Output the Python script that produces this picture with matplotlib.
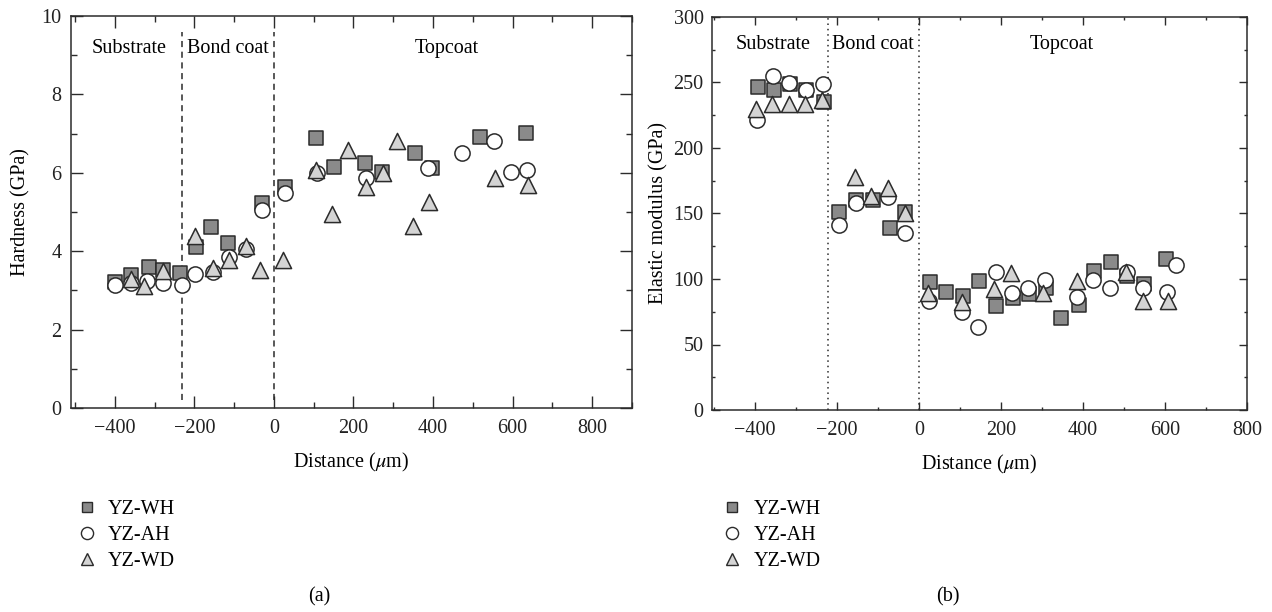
import numpy as np
import matplotlib
matplotlib.use("Agg")
import matplotlib.pyplot as plt
from matplotlib.ticker import MultipleLocator
from matplotlib.lines import Line2D

plt.rcParams['font.family'] = ['Liberation Serif', 'DejaVu Serif']
plt.rcParams['mathtext.fontset'] = 'stix'
plt.rcParams['font.size'] = 14.5

# hardness (panel a)
wh_hard_x = [-400, -360, -314, -278, -236, -195, -158, -115, -31, 28, 106, 151, 229, 271, 355, 397, 518, 633]
wh_hard_y = [3.22, 3.39, 3.59, 3.52, 3.44, 4.10, 4.63, 4.20, 5.22, 5.65, 6.88, 6.16, 6.24, 6.03, 6.50, 6.13, 6.92, 7.02]
ah_hard_x = [-400, -358, -319, -280, -232, -199, -154, -112, -70, -31, 28, 109, 231, 387, 472, 554, 595, 636]
ah_hard_y = [3.14, 3.18, 3.25, 3.20, 3.14, 3.41, 3.48, 3.86, 4.05, 5.05, 5.48, 5.99, 5.86, 6.11, 6.51, 6.82, 6.03, 6.07]
wd_hard_x = [-360, -327, -280, -199, -154, -112, -70, -35, 22, 106, 147, 185, 231, 275, 309, 350, 391, 556, 638]
wd_hard_y = [3.28, 3.11, 3.50, 4.39, 3.56, 3.78, 4.12, 3.52, 3.78, 6.07, 4.95, 6.58, 5.65, 6.00, 6.81, 4.64, 5.26, 5.88, 5.69]

# elastic modulus (panel b)
wh_mod_x = [-394, -354, -315, -276, -233, -194, -154, -113, -72, -34, 27, 67, 107, 147, 187, 229, 268, 309,
            346, 389, 428, 468, 508, 549, 602]
wh_mod_y = [246.8, 244.3, 248.6, 244.3, 235.3, 151.4, 160.3, 160.3, 139.2, 151.4, 97.5, 89.8, 87.3, 98.7, 79.6,
            85.3, 88.3, 92.9, 70.5, 80.2, 106.1, 113.2, 102.5, 96.0, 115.3]
ah_mod_x = [-396, -355, -316, -276, -235, -194, -154, -75, -34, 24, 106, 145, 187, 226, 267, 307, 386, 425,
            466, 507, 547, 606, 628]
ah_mod_y = [221.4, 255.0, 249.4, 244.3, 248.9, 141.2, 158.2, 162.8, 134.9, 83.2, 74.6, 63.6, 105.1, 89.1, 93.4,
            99.2, 86.5, 99.2, 93.4, 105.6, 93.4, 90.3, 110.7]
wd_mod_x = [-398, -359, -318, -277, -237, -156, -117, -76, -34, 23, 104, 183, 224, 303, 385, 505, 546, 608]
wd_mod_y = [229.5, 233.6, 233.6, 233.6, 236.6, 178.0, 163.4, 169.2, 150.0, 89.6, 82.7, 92.1, 104.3, 89.6,
            98.5, 105.1, 83.2, 83.2]

series_names = ['YZ-WH', 'YZ-AH', 'YZ-WD']
region_names = ['Substrate', 'Bond coat', 'Topcoat']

edge = '#2b2b2b'
sq_style = dict(marker='s', color='#8a8a8a', edgecolor=edge, s=92, linewidths=1.1)
ci_style = dict(marker='o', color='white', edgecolor=edge, s=120, linewidths=1.1)
tr_style = dict(marker='^', color='#d4d4d4', edgecolor=edge, s=135, linewidths=1.1)


def style_axes(ax, major_len, minor_len):
    ax.tick_params(which='both', direction='in', top=True, right=True, color=edge, labelcolor='#222222')
    ax.tick_params(which='major', length=major_len, width=1.0, pad=8)
    ax.tick_params(which='minor', length=minor_len, width=1.0)
    for sp in ax.spines.values():
        sp.set_color(edge)
        sp.set_linewidth(1.1)


fig = plt.figure(figsize=(12.72, 6.12), dpi=100)

# ---- (a) hardness
ax1 = fig.add_axes([71 / 1272, 1 - 408 / 612, 561 / 1272, 392 / 612])
ax1.scatter(wh_hard_x, wh_hard_y, zorder=3, **sq_style)
ax1.scatter(ah_hard_x, ah_hard_y, zorder=4, **ci_style)
ax1.scatter(wd_hard_x, wd_hard_y, zorder=5, **tr_style)
for xv in [-230, 0]:
    ax1.plot([xv, xv], [0.2, 9.6], ls=(0, (4, 3)), color=edge, lw=1.1, zorder=2)
ax1.set_xlim(-510, 900)
ax1.set_ylim(0, 10)
ax1.set_xticks([-400, -200, 0, 200, 400, 600, 800])
ax1.set_xticklabels(['\u2212400', '\u2212200', '0', '200', '400', '600', '800'])
ax1.xaxis.set_minor_locator(MultipleLocator(100))
ax1.yaxis.set_major_locator(MultipleLocator(2))
ax1.yaxis.set_minor_locator(MultipleLocator(1))
style_axes(ax1, 8.5, 4.3)
ax1.tick_params(axis='y', which='major', pad=7)
ax1.set_xlabel('Distance ($\\mu$m)', labelpad=9)
ax1.set_ylabel('Hardness (GPa)', labelpad=8)
ax1.text(-365, 9.18, region_names[0], ha='center', va='center')
ax1.text(-116, 9.18, region_names[1], ha='center', va='center')
ax1.text(435, 9.18, region_names[2], ha='center', va='center')

# ---- (b) elastic modulus
ax2 = fig.add_axes([712 / 1272, 1 - 410 / 612, 535 / 1272, 393 / 612])
ax2.scatter(wh_mod_x, wh_mod_y, zorder=3, **sq_style)
ax2.scatter(ah_mod_x, ah_mod_y, zorder=4, **ci_style)
ax2.scatter(wd_mod_x, wd_mod_y, zorder=5, **tr_style)
for xv in [-222, 0]:
    ax2.axvline(xv, ls=(0, (1, 2.5)), color=edge, lw=1.1, zorder=2)
ax2.set_xlim(-505, 800)
ax2.set_ylim(0, 300)
ax2.set_xticks([-400, -200, 0, 200, 400, 600, 800])
ax2.set_xticklabels(['\u2212400', '\u2212200', '0', '200', '400', '600', '800'])
ax2.xaxis.set_minor_locator(MultipleLocator(100))
ax2.yaxis.set_major_locator(MultipleLocator(50))
ax2.yaxis.set_minor_locator(MultipleLocator(25))
style_axes(ax2, 5.8, 2.5)
ax2.tick_params(axis='y', which='major', pad=6)
ax2.set_xlabel('Distance ($\\mu$m)', labelpad=9)
ax2.set_ylabel('Elastic modulus (GPa)', labelpad=4)
ax2.text(-356, 279, region_names[0], ha='center', va='center')
ax2.text(-112, 279, region_names[1], ha='center', va='center')
ax2.text(349, 279, region_names[2], ha='center', va='center')


def legend_handles(scale):
    hs = []
    for st in (sq_style, ci_style, tr_style):
        hs.append(Line2D([], [], ls='none', marker=st['marker'], markerfacecolor=st['color'],
                         markeredgecolor=edge, markeredgewidth=1.0,
                         markersize=np.sqrt(st['s']) * scale))
    return hs


fig.legend(legend_handles(0.8), series_names, loc='upper left', bbox_to_anchor=(67 / 1272, 0.2),
           frameon=False, borderpad=0, handlelength=1.0, handletextpad=0.5, labelspacing=0.34)
fig.legend(legend_handles(0.8), series_names, loc='upper left', bbox_to_anchor=(712 / 1272, 0.2),
           frameon=False, borderpad=0, handlelength=1.0, handletextpad=0.55, labelspacing=0.34)

fig.text(319 / 1272, 1 - 597 / 612, '(a)', ha='center', va='center')
fig.text(948 / 1272, 1 - 597 / 612, '(b)', ha='center', va='center')

fig.savefig('out.png', dpi=100)
